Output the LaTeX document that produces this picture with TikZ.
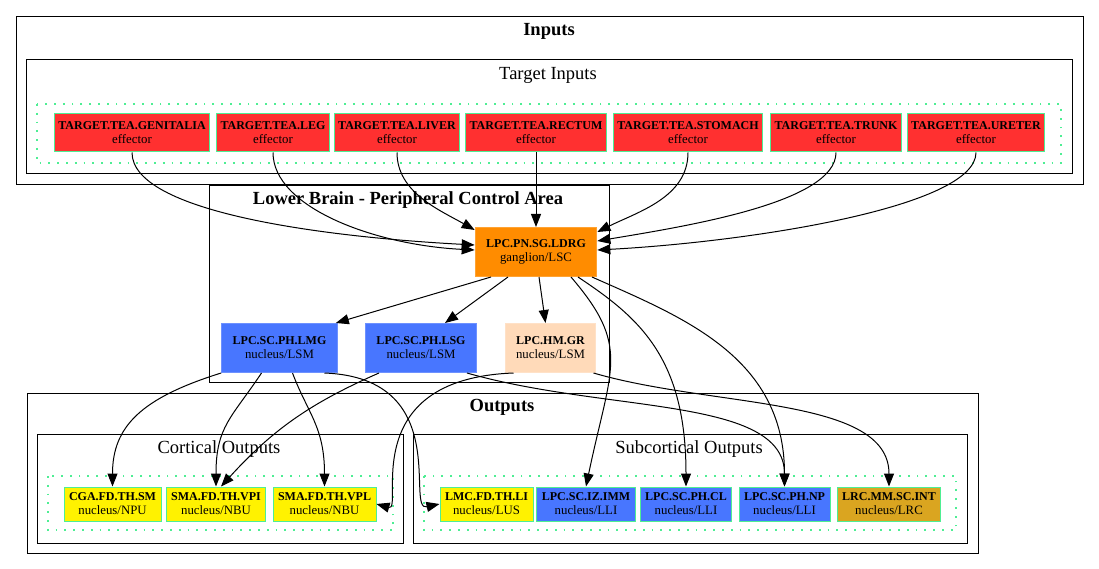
\documentclass[tikz,border=0pt]{standalone}
\usepackage{fontspec}
\setmainfont{Liberation Serif}
\usepackage{tikz}
\usetikzlibrary{arrows.meta,positioning}
\definecolor{tgtred}{HTML}{FF3030}
\definecolor{rimgreen}{HTML}{4EEE94}
\definecolor{gangorange}{HTML}{FF8C00}
\definecolor{nucblue}{HTML}{4876FF}
\definecolor{peach}{HTML}{FFDAB9}
\definecolor{gold}{HTML}{DAA520}
\newcommand{\nm}[1]{{\fontsize{12}{14}\selectfont\bfseries #1}}
\tikzset{
  box/.style={rectangle, draw=rimgreen, line width=1pt, align=center,
    inner ysep=0pt, font=\fontsize{12.8}{14}\selectfont},
  tgt/.style={box, fill=tgtred, inner xsep=4pt, minimum height=38pt},
  lpc/.style={box, inner xsep=11pt, minimum height=49pt},
  outn/.style={box, inner xsep=5pt, minimum height=34pt},
  clus/.style={draw=black, line width=1pt},
  grp/.style={draw=rimgreen, line width=1.8pt, dash pattern=on 1.8pt off 7pt},
  ctitle/.style={font=\fontsize{18.5}{20}\selectfont\bfseries},
  csub/.style={font=\fontsize{18.5}{20}\selectfont},
  flow/.style={-{Triangle[length=13pt,width=10pt]}, line width=1pt},
}

\begin{document}
\begin{tikzpicture}[x=1pt, y=1pt]
\useasboundingbox[fill=white] (0,0) rectangle (1099,-569);
% clusters
\draw[clus] (16,-16.5) rectangle (1083,-185);
\node[ctitle] (tinputs) at (549,-31) {Inputs};
\draw[clus] (26,-60) rectangle (1072,-174);
\node[csub] (ttarget) at (548,-75) {Target Inputs};
\draw[grp] (37,-104) rectangle (1061,-163);
\draw[clus] (209,-186) rectangle (609,-382);
\node[ctitle] (tlower) at (408,-200) {Lower Brain - Peripheral Control Area};
\draw[clus] (27,-393) rectangle (978,-553);
\node[ctitle] (toutputs) at (502,-407) {Outputs};
\draw[clus] (37,-434) rectangle (403,-543);
\node[csub] (tcort) at (219,-449) {Cortical Outputs};
\draw[grp] (48,-476) rectangle (393,-530);
\draw[clus] (413,-434) rectangle (967,-543);
\node[csub] (tsub) at (689,-449) {Subcortical Outputs};
\draw[grp] (424,-476) rectangle (956,-530);
% inputs
\node[tgt] (gen) at (132,-133) {\nm{TARGET.TEA.GENITALIA}\\effector};
\node[tgt] (leg) at (273,-133) {\nm{TARGET.TEA.LEG}\\effector};
\node[tgt] (liv) at (397,-133) {\nm{TARGET.TEA.LIVER}\\effector};
\node[tgt] (rec) at (536,-133) {\nm{TARGET.TEA.RECTUM}\\effector};
\node[tgt] (sto) at (688,-133) {\nm{TARGET.TEA.STOMACH}\\effector};
\node[tgt] (tru) at (836,-133) {\nm{TARGET.TEA.TRUNK}\\effector};
\node[tgt] (ure) at (976,-133) {\nm{TARGET.TEA.URETER}\\effector};
% lower brain
\node[lpc, fill=gangorange, draw=gangorange!80!white] (ldrg) at (536,-252) {\nm{LPC.PN.SG.LDRG}\\ganglion/LSC};
\node[lpc, fill=nucblue, draw=nucblue!80!white] (lmg) at (279.5,-348) {\nm{LPC.SC.PH.LMG}\\nucleus/LSM};
\node[lpc, fill=nucblue, draw=nucblue!80!white] (lsg) at (421,-348) {\nm{LPC.SC.PH.LSG}\\nucleus/LSM};
\node[lpc, fill=peach, draw=peach!80!white] (gr) at (550.5,-348) {\nm{LPC.HM.GR}\\nucleus/LSM};
% outputs
\node[outn, fill=yellow] (sm)  at (112.5,-504) {\nm{CGA.FD.TH.SM}\\nucleus/NPU};
\node[outn, fill=yellow] (vpi) at (216,-504)   {\nm{SMA.FD.TH.VPI}\\nucleus/NBU};
\node[outn, fill=yellow] (vpl) at (324.5,-504) {\nm{SMA.FD.TH.VPL}\\nucleus/NBU};
\node[outn, fill=yellow] (li)  at (486.5,-504) {\nm{LMC.FD.TH.LI}\\nucleus/LUS};
\node[outn, fill=nucblue] (imm) at (586,-504)  {\nm{LPC.SC.IZ.IMM}\\nucleus/LLI};
\node[outn, fill=nucblue] (cl)  at (686,-504)  {\nm{LPC.SC.PH.CL}\\nucleus/LLI};
\node[outn, fill=nucblue] (np)  at (784.5,-504) {\nm{LPC.SC.PH.NP}\\nucleus/LLI};
\node[outn, fill=gold] (int) at (889,-504)     {\nm{LRC.MM.SC.INT}\\nucleus/LRC};
% edges
\draw[flow] (gen.south) .. controls +(0,-60) and +(-150,8) .. ([yshift=7]ldrg.west);
\draw[flow] (leg.south) .. controls +(0,-55) and +(-100,5) .. ([yshift=2]ldrg.west);
\draw[flow] (liv.south) .. controls +(0,-40) and +(-35,20) .. ([yshift=-3]ldrg.north west);
\draw[flow] (rec.south) -- (ldrg.north);
\draw[flow] (sto.south) .. controls +(0,-45) and +(40,20) .. ([yshift=-5]ldrg.north east);
\draw[flow] (tru.south) .. controls +(0,-50) and +(90,15) .. ([yshift=-14]ldrg.north east);
\draw[flow] (ure.south) .. controls +(0,-55) and +(150,8) .. ([yshift=2]ldrg.east);
\draw[flow] ([xshift=-45]ldrg.south) -- ([xshift=-2]lmg.north east);
\draw[flow] ([xshift=-28]ldrg.south) -- ([xshift=24]lsg.north);
\draw[flow] ([xshift=3]ldrg.south) -- ([xshift=-5]gr.north);
\draw[flow] ([xshift=35]ldrg.south) .. controls +(60,-70) and +(25,120) .. (imm.north);
\draw[flow] ([xshift=42]ldrg.south) .. controls +(60,-40) and +(0,130) .. (cl.north);
\draw[flow] ([xshift=56]ldrg.south) .. controls +(90,-40) and +(0,130) .. (np.north);
\draw[flow] (lmg.south west) .. controls +(-80,-25) and +(0,60) .. (sm.north);
\draw[flow] ([xshift=-18]lmg.south) .. controls +(-30,-45) and +(0,60) .. (vpi.north);
\draw[flow] ([xshift=13]lmg.south) .. controls +(15,-40) and +(0,60) .. (vpl.north);
\draw[flow] ([xshift=45]lmg.south) .. controls +(130,-5) and +(-35,-8) .. (li.west);
\draw[flow] ([xshift=-42]lsg.south) to[bend right=12] ([xshift=5]vpi.north);
\draw[flow] ([xshift=46]lsg.south) .. controls +(140,-40) and +(0,90) .. (np.north);
\draw[flow] ([xshift=-37]gr.south) .. controls +(-160,-6) and +(28,-8) .. (vpl.east);
\draw[flow] ([xshift=43]gr.south) .. controls +(120,-35) and +(0,90) .. (int.north);
\end{tikzpicture}
\end{document}
